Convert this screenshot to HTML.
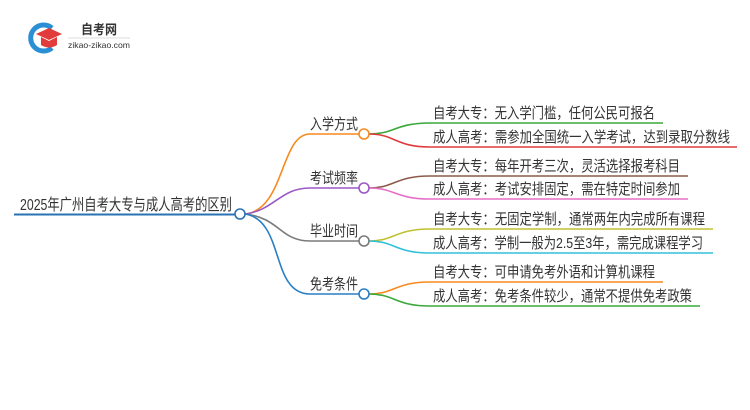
<!DOCTYPE html>
<html><head><meta charset="utf-8"><style>
html,body{margin:0;padding:0;background:#fff;}
svg{display:block;}
text{font-family:"Liberation Sans","Noto Sans CJK SC",sans-serif;fill:#333;}
</style></head><body>
<svg width="750" height="410" viewBox="0 0 750 410" xmlns="http://www.w3.org/2000/svg">
<!-- logo -->
<path d="M52 28 A13 13 0 1 0 52 48" fill="none" stroke="#2b8fd6" stroke-width="5"/>
<path d="M36 34 L49 28 L62 34 L49 40 Z" fill="#e23b3b"/>
<path d="M41 37 L41 45 Q49 50 57 45 L57 37 L49 41 Z" fill="#e23b3b"/>
<text x="81" y="34" font-size="13" font-weight="bold" fill="#222" textLength="36" lengthAdjust="spacingAndGlyphs">自考网</text>
<line x1="68" y1="38" x2="130" y2="38" stroke="#ddd" stroke-width="1"/>
<text x="68" y="48" font-size="8.5" fill="#666" textLength="62" lengthAdjust="spacingAndGlyphs">zikao-zikao.com</text>

<!-- root -->
<line x1="14" y1="214.5" x2="236" y2="214.5" stroke="#2a72b5" stroke-width="2"/>
<text x="20" y="210" font-size="16" textLength="212" lengthAdjust="spacingAndGlyphs">2025年广州自考大专与成人高考的区别</text>

<!-- branches -->
<g fill="none" stroke-width="1.6">
<path d="M245 214 C285 210 280 134 310 134 L359 134" stroke="#f7891f"/>
<path d="M245 214 C275 210 280 188 310 188 L359 188" stroke="#9b59c6"/>
<path d="M245 214 C280 218 280 241 310 241 L359 241" stroke="#7a7a7a"/>
<path d="M245 214 C285 220 270 294 310 294 L359 294" stroke="#2a7fc4"/>
<!-- leaves -->
<path d="M369 134 C395 134 395 123 430 123 L663 123" stroke="#3aa83a"/>
<path d="M369 134 C395 134 395 147 430 147 L737 147" stroke="#e03b3b"/>
<path d="M369 188 C395 188 395 176 430 176 L688 176" stroke="#8b5a4a"/>
<path d="M369 188 C395 188 395 199 430 199 L688 199" stroke="#e86fc8"/>
<path d="M369 241 C395 241 395 229 430 229 L713 229" stroke="#c0c030"/>
<path d="M369 241 C395 241 395 253 430 253 L713 253" stroke="#30c0d8"/>
<path d="M369 294 C395 294 395 282 430 282 L663 282" stroke="#f7891f"/>
<path d="M369 294 C395 294 395 306 430 306 L700 306" stroke="#3aa83a"/>
</g>
<g fill="#fff" stroke-width="1.6">
<circle cx="240" cy="214" r="5" stroke="#2a72b5"/>
<circle cx="364" cy="134" r="5" stroke="#f7891f"/>
<circle cx="364" cy="188" r="5" stroke="#9b59c6"/>
<circle cx="364" cy="241" r="5" stroke="#7a7a7a"/>
<circle cx="364" cy="294" r="5" stroke="#2a7fc4"/>
</g>

<g font-size="15">
<text x="310" y="129" textLength="48" lengthAdjust="spacingAndGlyphs">入学方式</text>
<text x="310" y="183" textLength="48" lengthAdjust="spacingAndGlyphs">考试频率</text>
<text x="310" y="236" textLength="48" lengthAdjust="spacingAndGlyphs">毕业时间</text>
<text x="310" y="289" textLength="48" lengthAdjust="spacingAndGlyphs">免考条件</text>
</g>
<g font-size="15">
<text x="433" y="118" textLength="222" lengthAdjust="spacingAndGlyphs">自考大专：无入学门槛，任何公民可报名</text>
<text x="433" y="142" textLength="297" lengthAdjust="spacingAndGlyphs">成人高考：需参加全国统一入学考试，达到录取分数线</text>
<text x="433" y="171" textLength="247" lengthAdjust="spacingAndGlyphs">自考大专：每年开考三次，灵活选择报考科目</text>
<text x="433" y="194" textLength="247" lengthAdjust="spacingAndGlyphs">成人高考：考试安排固定，需在特定时间参加</text>
<text x="433" y="224" textLength="272" lengthAdjust="spacingAndGlyphs">自考大专：无固定学制，通常两年内完成所有课程</text>
<text x="433" y="248" textLength="270" lengthAdjust="spacingAndGlyphs">成人高考：学制一般为2.5至3年，需完成课程学习</text>
<text x="433" y="277" textLength="222" lengthAdjust="spacingAndGlyphs">自考大专：可申请免考外语和计算机课程</text>
<text x="433" y="301" textLength="259" lengthAdjust="spacingAndGlyphs">成人高考：免考条件较少，通常不提供免考政策</text>
</g>
</svg>
</body></html>
